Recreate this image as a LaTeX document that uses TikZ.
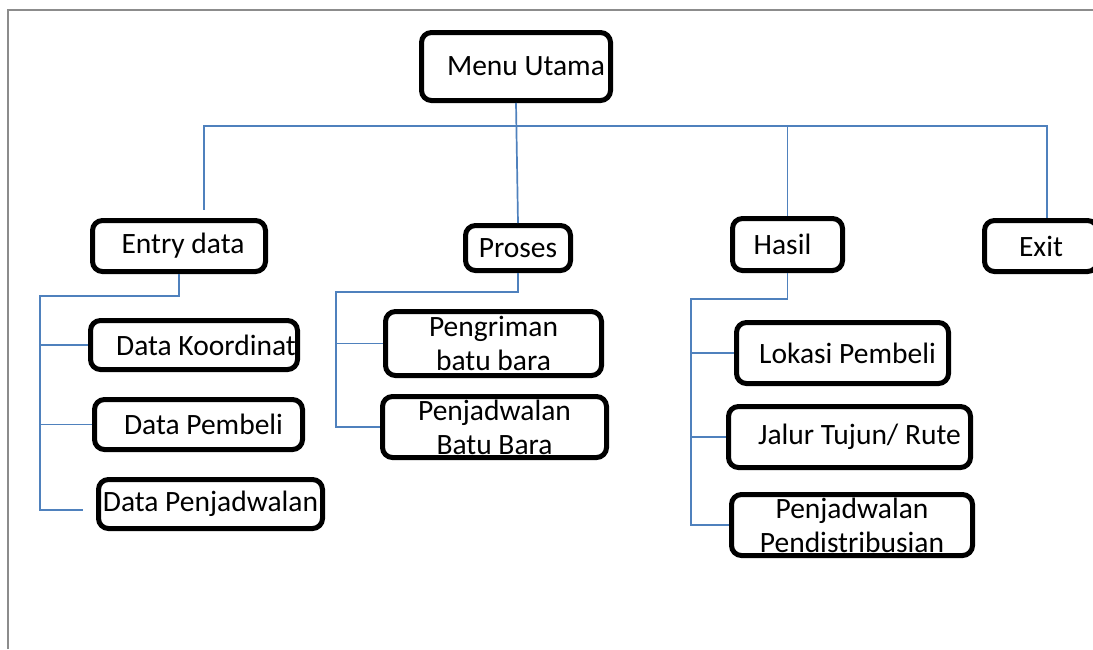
\documentclass[tikz,border=0pt]{standalone}
\usepackage{fontspec}
\setmainfont{Carlito}

\definecolor{linkblue}{HTML}{4F81BD}
\definecolor{framegray}{HTML}{8C8C8C}

\begin{document}
\begin{tikzpicture}[x=1pt, y=-1pt,
    menubox/.style={draw, line width=5pt, rounded corners=10pt, inner sep=0pt, align=center,
      font=\fontsize{29.5}{34}\selectfont},
    link/.style={draw=linkblue, line width=1.7pt}]
            \useasboundingbox (0,0) rectangle (1093,649);
            \draw[framegray, line width=2pt] (8,649) -- (8,10) -- (1093,10);

            \node[menubox, minimum width=189, minimum height=68] (menu) at (516,66.5) {\hspace*{20pt}Menu Utama};

            \node[menubox, minimum width=173, minimum height=51] (entry)  at (179,246)    {\hspace*{8pt}Entry data};
            \node[menubox, minimum width=105, minimum height=45] (proses) at (518,248)    {Proses};
            \node[menubox, minimum width=110, minimum height=52] (hasil)  at (787.5,244.5) {Hasil\hspace*{10pt}};
            \node[menubox, minimum width=113, minimum height=51] (exit)   at (1041,246)   {Exit};

            \node[menubox, minimum width=207, minimum height=49] (dkoor)   at (194,345)   {\hspace*{24pt}Data Koordinat};
            \node[menubox, minimum width=208, minimum height=50] (dbeli)   at (198.5,424.5) {\hspace*{10pt}Data Pembeli};
            \node[menubox, minimum width=224, minimum height=49] (djadwal) at (210.5,504)  {Data Penjadwalan};

            \node[menubox, minimum width=216, minimum height=64] (pkirim)  at (493.5,343.5) {Pengriman\\batu bara};
            \node[menubox, minimum width=224, minimum height=61] (pjadwal) at (494.5,427)   {Penjadwalan\\Batu Bara};

            \node[menubox, minimum width=212, minimum height=61] (hlokasi) at (842.5,353)  {\hspace*{10pt}Lokasi Pembeli};
            \node[menubox, minimum width=242, minimum height=61] (hjalur)  at (849.5,437)  {\hspace*{20pt}Jalur Tujun/ Rute};
            \node[menubox, minimum width=241, minimum height=61] (hjadwal) at (852,525)    {Penjadwalan\\Pendistribusian};

            % menu utama bus
            \coordinate (busL) at (204,126);
            \coordinate (busR) at (1047,126);
            \coordinate (entryTop) at ([yshift=8.5pt]entry.north);
            \draw[link] (busL |- entryTop) -- (busL) -- (busR) -- (busR |- exit.north);
            \draw[link] (hasil.north) -- (hasil.north |- busL);
            \draw[link] (menu.south) -- (proses.north);

            % entry data
            \coordinate (entryTrunk) at (40,296);
            \coordinate (djadwalEnd) at ([xshift=-13pt, yshift=-6pt]djadwal.west);
            \draw[link] (entry.south) |- (entryTrunk) -- (entryTrunk |- djadwalEnd) -- (djadwalEnd);
            \draw[link] (entryTrunk |- dkoor.west) -- (dkoor.west);
            \draw[link] (entryTrunk |- dbeli.west) -- (dbeli.west);

            % proses
            \coordinate (prosesTrunk) at (336,292);
            \draw[link] (proses.south) |- (prosesTrunk) -- (prosesTrunk |- pjadwal.west) -- (pjadwal.west);
            \draw[link] (prosesTrunk |- pkirim.west) -- (pkirim.west);

            % hasil
            \coordinate (hasilTrunk) at (691,299);
            \draw[link] (hasil.south) |- (hasilTrunk) -- (hasilTrunk |- hjadwal.west) -- (hjadwal.west);
            \draw[link] (hasilTrunk |- hlokasi.west) -- (hlokasi.west);
            \draw[link] (hasilTrunk |- hjalur.west) -- (hjalur.west);
          \end{tikzpicture}
\end{document}
